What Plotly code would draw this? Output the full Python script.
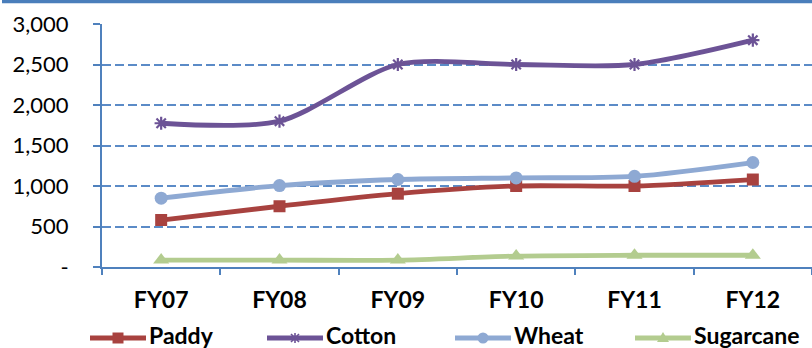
import plotly.graph_objects as go

# Fiscal years on the category axis
years = ["FY07", "FY08", "FY09", "FY10", "FY11", "FY12"]

# Series values
paddy = [580, 750, 905, 1000, 1000, 1080]
cotton = [1775, 1800, 2500, 2500, 2500, 2800]
wheat = [850, 1005, 1080, 1100, 1120, 1290]
sugarcane = [85, 85, 85, 135, 145, 145]

# Value axis ticks
y_tick_vals = [0, 500, 1000, 1500, 2000, 2500, 3000]
y_tick_text = ["-", "500", "1,000", "1,500", "2,000", "2,500", "3,000"]

series_names = ["Paddy", "Cotton", "Wheat", "Sugarcane"]

# Page geometry (pixels)
W, H = 812, 348
ML, MR, MT, MB = 102, 0, 24, 81
PW, PH = W - ML - MR, H - MT - MB

AXIS = "#4F81BD"
GRID = "#5B8BC7"
FONT = "Lato"

styles = {
    "Paddy": dict(color="#A8423F", symbol="square", size=12),
    "Cotton": dict(color="#6C5396", symbol="asterisk-open", size=11),
    "Wheat": dict(color="#8EA9D3", symbol="circle", size=13),
    "Sugarcane": dict(color="#B3CC8F", symbol="triangle-up", size=14),
}
values = {"Paddy": paddy, "Cotton": cotton, "Wheat": wheat, "Sugarcane": sugarcane}


def px_x(px):
    return (px - ML) / PW


def px_y(py):
    return (H - MB - py) / PH


fig = go.Figure()

for name in series_names:
    st = styles[name]
    marker = dict(color=st["color"], symbol=st["symbol"], size=st["size"],
                  line=dict(width=0))
    if st["symbol"].endswith("open"):
        marker["line"] = dict(width=2.2, color=st["color"])
    fig.add_trace(go.Scatter(
        x=years, y=values[name], name=name, mode="lines+markers",
        line=dict(color=st["color"], width=4.8, shape="spline", smoothing=0.8),
        marker=marker, cliponaxis=False, showlegend=False,
    ))


def legend_marker(name, ax, ay, color):
    """Small pixel-sized glyph placed at a paper position for the legend key."""
    base = dict(xref="paper", yref="paper", xsizemode="pixel", ysizemode="pixel",
                xanchor=ax, yanchor=ay)
    if name == "Paddy":
        return dict(type="rect", x0=-5.5, x1=5.5, y0=-5.5, y1=5.5,
                    fillcolor=color, line=dict(width=0), **base)
    if name == "Wheat":
        return dict(type="circle", x0=-5.5, x1=5.5, y0=-5.5, y1=5.5,
                    fillcolor=color, line=dict(width=0), **base)
    if name == "Sugarcane":
        return dict(type="path", path="M-6,-4 L6,-4 L0,6 Z",
                    fillcolor=color, line=dict(width=0), **base)
    return dict(type="path", path="M-4,-4 L4,4 M-4,4 L4,-4 M0,-5 L0,5",
                line=dict(color=color, width=1.6), **base)


# Legend drawn below the axis: line sample, marker, label
legend_centres = {"Paddy": 118, "Cotton": 295, "Wheat": 483, "Sugarcane": 663}
LEG_Y = 338
half = 28
shapes = []
annotations = []
for name in series_names:
    st = styles[name]
    cx = legend_centres[name]
    shapes.append(dict(type="line", xref="paper", yref="paper",
                       x0=px_x(cx - half), x1=px_x(cx + half),
                       y0=px_y(LEG_Y), y1=px_y(LEG_Y),
                       line=dict(color=st["color"], width=4.8)))
    shapes.append(legend_marker(name, px_x(cx), px_y(LEG_Y), st["color"]))
    annotations.append(dict(xref="paper", yref="paper", x=px_x(cx + half + 1),
                            y=px_y(LEG_Y - 3), xanchor="left", yanchor="middle",
                            text="<b>%s</b>" % name, showarrow=False,
                            font=dict(family=FONT, size=23, color="#000000")))

# Rule along the top edge of the page
shapes.append(dict(type="line", xref="paper", yref="paper",
                   x0=px_x(2), x1=px_x(W), y0=px_y(1.5), y1=px_y(1.5),
                   line=dict(color="#4A7EBB", width=3.5)))

fig.update_layout(
    width=W, height=H,
    margin=dict(l=ML, r=MR, t=MT, b=MB, pad=0),
    paper_bgcolor="white", plot_bgcolor="white",
    showlegend=False,
    font=dict(family=FONT, color="#000000"),
    xaxis=dict(
        type="category", range=[-0.5, 5.5],
        showgrid=False, zeroline=False,
        showline=True, linecolor=AXIS, linewidth=2,
        ticks="outside", tickson="boundaries", ticklen=6, tickwidth=2, tickcolor=AXIS,
        tickfont=dict(family=FONT, size=23, color="#000000", weight="bold"),
        ticklabelstandoff=11,
    ),
    yaxis=dict(
        range=[0, 3000], tickvals=y_tick_vals, ticktext=y_tick_text,
        showgrid=True, gridcolor=GRID, gridwidth=2, griddash="9px,4px",
        zeroline=False,
        showline=True, linecolor=AXIS, linewidth=2,
        ticks="outside", ticklen=7, tickwidth=2, tickcolor=AXIS,
        tickfont=dict(family=FONT, size=22, color="#000000"),
        ticklabelstandoff=20,
    ),
    shapes=shapes,
    annotations=annotations,
)

fig.write_html("out.html")
